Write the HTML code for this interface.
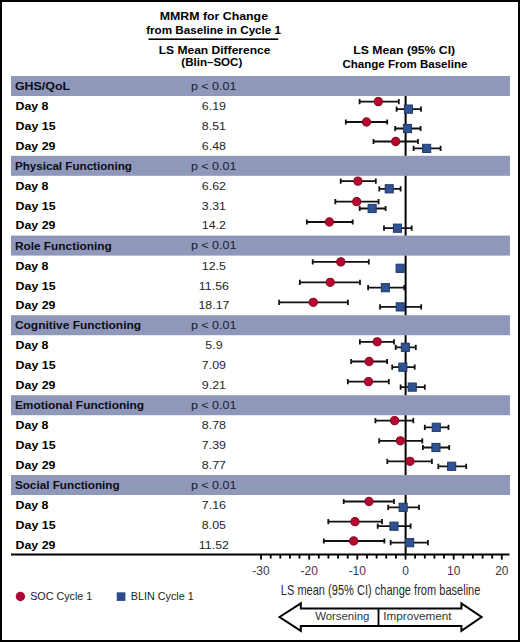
<!DOCTYPE html>
<html><head><meta charset="utf-8"><style>
html,body{margin:0;padding:0;background:#fff;}
body{width:520px;height:642px;overflow:hidden;}
svg{display:block;font-family:"Liberation Sans",sans-serif;}
</style></head><body>
<svg width="520" height="642" viewBox="0 0 520 642">
<rect x="0" y="0" width="520" height="642" fill="#000"/>
<rect x="2" y="2" width="516" height="638" fill="#fff"/>
<rect x="11" y="76" width="499" height="20" fill="#8f97ba"/>
<text x="14.9" y="90.0" font-size="11" font-weight="bold" fill="#0b0c18" text-anchor="start" textLength="55.2" lengthAdjust="spacingAndGlyphs">GHS/QoL</text>
<text x="190.9" y="89.8" font-size="11" font-weight="normal" fill="#1a1c2c" text-anchor="start" textLength="45.6" lengthAdjust="spacingAndGlyphs">p &lt; 0.01</text>
<text x="15.5" y="110.0" font-size="11" font-weight="bold" fill="#000" text-anchor="start" textLength="33.0" lengthAdjust="spacingAndGlyphs">Day 8</text>
<text transform="translate(213.9 110.0) scale(1.13 1)" font-size="11" fill="#262626" text-anchor="middle">6.19</text>
<text x="15.5" y="130.0" font-size="11" font-weight="bold" fill="#000" text-anchor="start" textLength="40.2" lengthAdjust="spacingAndGlyphs">Day 15</text>
<text transform="translate(213.9 130.0) scale(1.13 1)" font-size="11" fill="#262626" text-anchor="middle">8.51</text>
<text x="15.5" y="149.5" font-size="11" font-weight="bold" fill="#000" text-anchor="start" textLength="39.9" lengthAdjust="spacingAndGlyphs">Day 29</text>
<text transform="translate(213.9 149.5) scale(1.13 1)" font-size="11" fill="#262626" text-anchor="middle">6.48</text>
<rect x="11" y="155.8" width="499" height="20" fill="#8f97ba"/>
<text x="14.9" y="169.8" font-size="11" font-weight="bold" fill="#0b0c18" text-anchor="start" textLength="117.0" lengthAdjust="spacingAndGlyphs">Physical Functioning</text>
<text x="190.9" y="169.6" font-size="11" font-weight="normal" fill="#1a1c2c" text-anchor="start" textLength="45.6" lengthAdjust="spacingAndGlyphs">p &lt; 0.01</text>
<text x="15.5" y="189.8" font-size="11" font-weight="bold" fill="#000" text-anchor="start" textLength="33.0" lengthAdjust="spacingAndGlyphs">Day 8</text>
<text transform="translate(213.9 189.8) scale(1.13 1)" font-size="11" fill="#262626" text-anchor="middle">6.62</text>
<text x="15.5" y="209.8" font-size="11" font-weight="bold" fill="#000" text-anchor="start" textLength="40.2" lengthAdjust="spacingAndGlyphs">Day 15</text>
<text transform="translate(213.9 209.8) scale(1.13 1)" font-size="11" fill="#262626" text-anchor="middle">3.31</text>
<text x="15.5" y="229.3" font-size="11" font-weight="bold" fill="#000" text-anchor="start" textLength="39.9" lengthAdjust="spacingAndGlyphs">Day 29</text>
<text transform="translate(213.9 229.3) scale(1.13 1)" font-size="11" fill="#262626" text-anchor="middle">14.2</text>
<rect x="11" y="235.6" width="499" height="20" fill="#8f97ba"/>
<text x="14.9" y="249.6" font-size="11" font-weight="bold" fill="#0b0c18" text-anchor="start" textLength="96.8" lengthAdjust="spacingAndGlyphs">Role Functioning</text>
<text x="190.9" y="249.4" font-size="11" font-weight="normal" fill="#1a1c2c" text-anchor="start" textLength="45.6" lengthAdjust="spacingAndGlyphs">p &lt; 0.01</text>
<text x="15.5" y="269.6" font-size="11" font-weight="bold" fill="#000" text-anchor="start" textLength="33.0" lengthAdjust="spacingAndGlyphs">Day 8</text>
<text transform="translate(213.9 269.6) scale(1.13 1)" font-size="11" fill="#262626" text-anchor="middle">12.5</text>
<text x="15.5" y="289.6" font-size="11" font-weight="bold" fill="#000" text-anchor="start" textLength="40.2" lengthAdjust="spacingAndGlyphs">Day 15</text>
<text transform="translate(213.9 289.6) scale(1.13 1)" font-size="11" fill="#262626" text-anchor="middle">11.56</text>
<text x="15.5" y="309.1" font-size="11" font-weight="bold" fill="#000" text-anchor="start" textLength="39.9" lengthAdjust="spacingAndGlyphs">Day 29</text>
<text transform="translate(213.9 309.1) scale(1.13 1)" font-size="11" fill="#262626" text-anchor="middle">18.17</text>
<rect x="11" y="315.2" width="499" height="20" fill="#8f97ba"/>
<text x="14.9" y="329.2" font-size="11" font-weight="bold" fill="#0b0c18" text-anchor="start" textLength="126.2" lengthAdjust="spacingAndGlyphs">Cognitive Functioning</text>
<text x="190.9" y="329.0" font-size="11" font-weight="normal" fill="#1a1c2c" text-anchor="start" textLength="45.6" lengthAdjust="spacingAndGlyphs">p &lt; 0.01</text>
<text x="15.5" y="349.2" font-size="11" font-weight="bold" fill="#000" text-anchor="start" textLength="33.0" lengthAdjust="spacingAndGlyphs">Day 8</text>
<text transform="translate(213.9 349.2) scale(1.13 1)" font-size="11" fill="#262626" text-anchor="middle">5.9</text>
<text x="15.5" y="369.2" font-size="11" font-weight="bold" fill="#000" text-anchor="start" textLength="40.2" lengthAdjust="spacingAndGlyphs">Day 15</text>
<text transform="translate(213.9 369.2) scale(1.13 1)" font-size="11" fill="#262626" text-anchor="middle">7.09</text>
<text x="15.5" y="388.7" font-size="11" font-weight="bold" fill="#000" text-anchor="start" textLength="39.9" lengthAdjust="spacingAndGlyphs">Day 29</text>
<text transform="translate(213.9 388.7) scale(1.13 1)" font-size="11" fill="#262626" text-anchor="middle">9.21</text>
<rect x="11" y="395.2" width="499" height="20" fill="#8f97ba"/>
<text x="14.9" y="409.2" font-size="11" font-weight="bold" fill="#0b0c18" text-anchor="start" textLength="129.2" lengthAdjust="spacingAndGlyphs">Emotional Functioning</text>
<text x="190.9" y="409.0" font-size="11" font-weight="normal" fill="#1a1c2c" text-anchor="start" textLength="45.6" lengthAdjust="spacingAndGlyphs">p &lt; 0.01</text>
<text x="15.5" y="429.2" font-size="11" font-weight="bold" fill="#000" text-anchor="start" textLength="33.0" lengthAdjust="spacingAndGlyphs">Day 8</text>
<text transform="translate(213.9 429.2) scale(1.13 1)" font-size="11" fill="#262626" text-anchor="middle">8.78</text>
<text x="15.5" y="449.2" font-size="11" font-weight="bold" fill="#000" text-anchor="start" textLength="40.2" lengthAdjust="spacingAndGlyphs">Day 15</text>
<text transform="translate(213.9 449.2) scale(1.13 1)" font-size="11" fill="#262626" text-anchor="middle">7.39</text>
<text x="15.5" y="468.7" font-size="11" font-weight="bold" fill="#000" text-anchor="start" textLength="39.9" lengthAdjust="spacingAndGlyphs">Day 29</text>
<text transform="translate(213.9 468.7) scale(1.13 1)" font-size="11" fill="#262626" text-anchor="middle">8.77</text>
<rect x="11" y="475" width="499" height="20" fill="#8f97ba"/>
<text x="14.9" y="489.0" font-size="11" font-weight="bold" fill="#0b0c18" text-anchor="start" textLength="104.8" lengthAdjust="spacingAndGlyphs">Social Functioning</text>
<text x="190.9" y="488.8" font-size="11" font-weight="normal" fill="#1a1c2c" text-anchor="start" textLength="45.6" lengthAdjust="spacingAndGlyphs">p &lt; 0.01</text>
<text x="15.5" y="509.0" font-size="11" font-weight="bold" fill="#000" text-anchor="start" textLength="33.0" lengthAdjust="spacingAndGlyphs">Day 8</text>
<text transform="translate(213.9 509.0) scale(1.13 1)" font-size="11" fill="#262626" text-anchor="middle">7.16</text>
<text x="15.5" y="529.0" font-size="11" font-weight="bold" fill="#000" text-anchor="start" textLength="40.2" lengthAdjust="spacingAndGlyphs">Day 15</text>
<text transform="translate(213.9 529.0) scale(1.13 1)" font-size="11" fill="#262626" text-anchor="middle">8.05</text>
<text x="15.5" y="548.5" font-size="11" font-weight="bold" fill="#000" text-anchor="start" textLength="39.9" lengthAdjust="spacingAndGlyphs">Day 29</text>
<text transform="translate(213.9 548.5) scale(1.13 1)" font-size="11" fill="#262626" text-anchor="middle">11.52</text>
<rect x="404.6" y="96" width="2" height="59.8" fill="#000"/>
<rect x="404.6" y="175.8" width="2" height="59.8" fill="#000"/>
<rect x="404.6" y="255.6" width="2" height="59.6" fill="#000"/>
<rect x="404.6" y="335.2" width="2" height="60.0" fill="#000"/>
<rect x="404.6" y="415.2" width="2" height="59.8" fill="#000"/>
<rect x="404.6" y="495" width="2" height="59.0" fill="#000"/>
<path d="M359.6 101.6H398.8M359.6 99.0V104.2M398.8 99.0V104.2" stroke="#111" stroke-width="1.8" fill="none"/>
<path d="M396.6 109.1H421.0M396.6 106.5V111.7M421.0 106.5V111.7" stroke="#111" stroke-width="1.8" fill="none"/>
<circle cx="378.3" cy="101.6" r="4.1" fill="#b8062f" stroke="#850a26" stroke-width="1.1"/>
<rect x="404.4" y="105.0" width="8.1" height="8.2" fill="#2f5292" stroke="#1e3868" stroke-width="1"/>
<path d="M345.8 122.0H387.2M345.8 119.4V124.6M387.2 119.4V124.6" stroke="#111" stroke-width="1.8" fill="none"/>
<path d="M395.2 128.5H420.6M395.2 125.9V131.1M420.6 125.9V131.1" stroke="#111" stroke-width="1.8" fill="none"/>
<circle cx="366.5" cy="122.0" r="4.1" fill="#b8062f" stroke="#850a26" stroke-width="1.1"/>
<rect x="403.4" y="124.4" width="8.1" height="8.2" fill="#2f5292" stroke="#1e3868" stroke-width="1"/>
<path d="M373.5 141.5H418.0M373.5 138.9V144.1M418.0 138.9V144.1" stroke="#111" stroke-width="1.8" fill="none"/>
<path d="M413.6 148.4H440.6M413.6 145.8V151.0M440.6 145.8V151.0" stroke="#111" stroke-width="1.8" fill="none"/>
<circle cx="395.7" cy="141.5" r="4.1" fill="#b8062f" stroke="#850a26" stroke-width="1.1"/>
<rect x="422.6" y="144.3" width="8.1" height="8.2" fill="#2f5292" stroke="#1e3868" stroke-width="1"/>
<path d="M340.7 181.1H375.8M340.7 178.5V183.7M375.8 178.5V183.7" stroke="#111" stroke-width="1.8" fill="none"/>
<path d="M379.3 188.8H400.6M379.3 186.2V191.4M400.6 186.2V191.4" stroke="#111" stroke-width="1.8" fill="none"/>
<circle cx="357.9" cy="181.1" r="4.1" fill="#b8062f" stroke="#850a26" stroke-width="1.1"/>
<rect x="385.2" y="184.7" width="8.1" height="8.2" fill="#2f5292" stroke="#1e3868" stroke-width="1"/>
<path d="M335.3 201.7H378.6M335.3 199.1V204.3M378.6 199.1V204.3" stroke="#111" stroke-width="1.8" fill="none"/>
<path d="M359.7 208.5H385.6M359.7 205.9V211.1M385.6 205.9V211.1" stroke="#111" stroke-width="1.8" fill="none"/>
<circle cx="356.7" cy="201.7" r="4.1" fill="#b8062f" stroke="#850a26" stroke-width="1.1"/>
<rect x="368.1" y="204.4" width="8.1" height="8.2" fill="#2f5292" stroke="#1e3868" stroke-width="1"/>
<path d="M306.9 222.0H352.7M306.9 219.4V224.6M352.7 219.4V224.6" stroke="#111" stroke-width="1.8" fill="none"/>
<path d="M384.0 228.2H411.7M384.0 225.6V230.8M411.7 225.6V230.8" stroke="#111" stroke-width="1.8" fill="none"/>
<circle cx="329.4" cy="222.0" r="4.1" fill="#b8062f" stroke="#850a26" stroke-width="1.1"/>
<rect x="393.4" y="224.1" width="8.1" height="8.2" fill="#2f5292" stroke="#1e3868" stroke-width="1"/>
<path d="M312.7 261.9H368.8M312.7 259.3V264.5M368.8 259.3V264.5" stroke="#111" stroke-width="1.8" fill="none"/>
<circle cx="340.8" cy="261.9" r="4.1" fill="#b8062f" stroke="#850a26" stroke-width="1.1"/>
<rect x="396.1" y="264.2" width="8.1" height="8.2" fill="#2f5292" stroke="#1e3868" stroke-width="1"/>
<path d="M299.8 282.3H360.0M299.8 279.7V284.9M360.0 279.7V284.9" stroke="#111" stroke-width="1.8" fill="none"/>
<path d="M368.1 287.7H404.3M368.1 285.1V290.3M404.3 285.1V290.3" stroke="#111" stroke-width="1.8" fill="none"/>
<circle cx="330.2" cy="282.3" r="4.1" fill="#b8062f" stroke="#850a26" stroke-width="1.1"/>
<rect x="381.3" y="283.6" width="8.1" height="8.2" fill="#2f5292" stroke="#1e3868" stroke-width="1"/>
<path d="M279.2 302.3H347.9M279.2 299.7V304.9M347.9 299.7V304.9" stroke="#111" stroke-width="1.8" fill="none"/>
<path d="M380.0 306.9H421.2M380.0 304.3V309.5M421.2 304.3V309.5" stroke="#111" stroke-width="1.8" fill="none"/>
<circle cx="313.3" cy="302.3" r="4.1" fill="#b8062f" stroke="#850a26" stroke-width="1.1"/>
<rect x="396.2" y="302.8" width="8.1" height="8.2" fill="#2f5292" stroke="#1e3868" stroke-width="1"/>
<path d="M359.9 341.8H394.0M359.9 339.2V344.4M394.0 339.2V344.4" stroke="#111" stroke-width="1.8" fill="none"/>
<path d="M395.7 347.3H415.8M395.7 344.7V349.9M415.8 344.7V349.9" stroke="#111" stroke-width="1.8" fill="none"/>
<circle cx="377.2" cy="341.8" r="4.1" fill="#b8062f" stroke="#850a26" stroke-width="1.1"/>
<rect x="401.3" y="343.2" width="8.1" height="8.2" fill="#2f5292" stroke="#1e3868" stroke-width="1"/>
<path d="M351.2 361.5H387.1M351.2 358.9V364.1M387.1 358.9V364.1" stroke="#111" stroke-width="1.8" fill="none"/>
<path d="M392.2 367.2H414.7M392.2 364.6V369.8M414.7 364.6V369.8" stroke="#111" stroke-width="1.8" fill="none"/>
<circle cx="369.1" cy="361.5" r="4.1" fill="#b8062f" stroke="#850a26" stroke-width="1.1"/>
<rect x="398.8" y="363.1" width="8.1" height="8.2" fill="#2f5292" stroke="#1e3868" stroke-width="1"/>
<path d="M347.8 381.6H388.8M347.8 379.0V384.2M388.8 379.0V384.2" stroke="#111" stroke-width="1.8" fill="none"/>
<path d="M400.6 387.1H424.8M400.6 384.5V389.7M424.8 384.5V389.7" stroke="#111" stroke-width="1.8" fill="none"/>
<circle cx="368.5" cy="381.6" r="4.1" fill="#b8062f" stroke="#850a26" stroke-width="1.1"/>
<rect x="408.2" y="383.0" width="8.1" height="8.2" fill="#2f5292" stroke="#1e3868" stroke-width="1"/>
<path d="M375.4 420.6H413.3M375.4 418.0V423.2M413.3 418.0V423.2" stroke="#111" stroke-width="1.8" fill="none"/>
<path d="M424.8 427.3H448.5M424.8 424.7V429.9M448.5 424.7V429.9" stroke="#111" stroke-width="1.8" fill="none"/>
<circle cx="394.6" cy="420.6" r="4.1" fill="#b8062f" stroke="#850a26" stroke-width="1.1"/>
<rect x="432.2" y="423.2" width="8.1" height="8.2" fill="#2f5292" stroke="#1e3868" stroke-width="1"/>
<path d="M379.2 440.8H422.3M379.2 438.2V443.4M422.3 438.2V443.4" stroke="#111" stroke-width="1.8" fill="none"/>
<path d="M422.9 447.5H449.2M422.9 444.9V450.1M449.2 444.9V450.1" stroke="#111" stroke-width="1.8" fill="none"/>
<circle cx="400.4" cy="440.8" r="4.1" fill="#b8062f" stroke="#850a26" stroke-width="1.1"/>
<rect x="431.9" y="443.4" width="8.1" height="8.2" fill="#2f5292" stroke="#1e3868" stroke-width="1"/>
<path d="M387.3 461.3H431.9M387.3 458.7V463.9M431.9 458.7V463.9" stroke="#111" stroke-width="1.8" fill="none"/>
<path d="M438.3 466.3H466.2M438.3 463.7V468.9M466.2 463.7V468.9" stroke="#111" stroke-width="1.8" fill="none"/>
<circle cx="410.0" cy="461.3" r="4.1" fill="#b8062f" stroke="#850a26" stroke-width="1.1"/>
<rect x="447.6" y="462.2" width="8.1" height="8.2" fill="#2f5292" stroke="#1e3868" stroke-width="1"/>
<path d="M343.7 501.5H394.0M343.7 498.9V504.1M394.0 498.9V504.1" stroke="#111" stroke-width="1.8" fill="none"/>
<path d="M388.2 507.3H419.0M388.2 504.7V509.9M419.0 504.7V509.9" stroke="#111" stroke-width="1.8" fill="none"/>
<circle cx="369.0" cy="501.5" r="4.1" fill="#b8062f" stroke="#850a26" stroke-width="1.1"/>
<rect x="399.1" y="503.2" width="8.1" height="8.2" fill="#2f5292" stroke="#1e3868" stroke-width="1"/>
<path d="M328.3 521.7H382.0M328.3 519.1V524.3M382.0 519.1V524.3" stroke="#111" stroke-width="1.8" fill="none"/>
<path d="M377.7 526.2H410.6M377.7 523.6V528.8M410.6 523.6V528.8" stroke="#111" stroke-width="1.8" fill="none"/>
<circle cx="355.0" cy="521.7" r="4.1" fill="#b8062f" stroke="#850a26" stroke-width="1.1"/>
<rect x="389.9" y="522.1" width="8.1" height="8.2" fill="#2f5292" stroke="#1e3868" stroke-width="1"/>
<path d="M323.8 541.0H384.4M323.8 538.4V543.6M384.4 538.4V543.6" stroke="#111" stroke-width="1.8" fill="none"/>
<path d="M390.6 542.7H427.9M390.6 540.1V545.3M427.9 540.1V545.3" stroke="#111" stroke-width="1.8" fill="none"/>
<circle cx="353.7" cy="541.0" r="4.1" fill="#b8062f" stroke="#850a26" stroke-width="1.1"/>
<rect x="405.6" y="538.6" width="8.1" height="8.2" fill="#2f5292" stroke="#1e3868" stroke-width="1"/>
<rect x="11" y="553.5" width="498.5" height="2" fill="#000"/>
<rect x="260.1" y="555" width="1.8" height="4.6" fill="#000"/>
<rect x="269.8" y="555" width="1.8" height="3.6" fill="#000"/>
<rect x="279.4" y="555" width="1.8" height="3.6" fill="#000"/>
<rect x="289.0" y="555" width="1.8" height="3.6" fill="#000"/>
<rect x="298.6" y="555" width="1.8" height="3.6" fill="#000"/>
<rect x="308.3" y="555" width="1.8" height="4.6" fill="#000"/>
<rect x="317.9" y="555" width="1.8" height="3.6" fill="#000"/>
<rect x="327.5" y="555" width="1.8" height="3.6" fill="#000"/>
<rect x="337.2" y="555" width="1.8" height="3.6" fill="#000"/>
<rect x="346.8" y="555" width="1.8" height="3.6" fill="#000"/>
<rect x="356.4" y="555" width="1.8" height="4.6" fill="#000"/>
<rect x="366.1" y="555" width="1.8" height="3.6" fill="#000"/>
<rect x="375.7" y="555" width="1.8" height="3.6" fill="#000"/>
<rect x="385.3" y="555" width="1.8" height="3.6" fill="#000"/>
<rect x="395.0" y="555" width="1.8" height="3.6" fill="#000"/>
<rect x="404.6" y="555" width="1.8" height="4.6" fill="#000"/>
<rect x="414.2" y="555" width="1.8" height="3.6" fill="#000"/>
<rect x="423.9" y="555" width="1.8" height="3.6" fill="#000"/>
<rect x="433.5" y="555" width="1.8" height="3.6" fill="#000"/>
<rect x="443.1" y="555" width="1.8" height="3.6" fill="#000"/>
<rect x="452.8" y="555" width="1.8" height="4.6" fill="#000"/>
<rect x="462.4" y="555" width="1.8" height="3.6" fill="#000"/>
<rect x="472.0" y="555" width="1.8" height="3.6" fill="#000"/>
<rect x="481.7" y="555" width="1.8" height="3.6" fill="#000"/>
<rect x="491.3" y="555" width="1.8" height="3.6" fill="#000"/>
<rect x="500.9" y="555" width="1.8" height="4.6" fill="#000"/>
<text transform="translate(261.0 575.0) scale(1.0 1)" font-size="12" fill="#3a3a3a" text-anchor="middle">-30</text>
<text transform="translate(309.2 575.0) scale(1.0 1)" font-size="12" fill="#3a3a3a" text-anchor="middle">-20</text>
<text transform="translate(357.3 575.0) scale(1.0 1)" font-size="12" fill="#3a3a3a" text-anchor="middle">-10</text>
<text transform="translate(405.5 575.0) scale(1.0 1)" font-size="12" fill="#3a3a3a" text-anchor="middle">0</text>
<text transform="translate(453.7 575.0) scale(1.0 1)" font-size="12" fill="#3a3a3a" text-anchor="middle">10</text>
<text transform="translate(501.8 575.0) scale(1.0 1)" font-size="12" fill="#3a3a3a" text-anchor="middle">20</text>
<text x="280.8" y="594.7" font-size="15" font-weight="normal" fill="#2a2a2a" text-anchor="start" textLength="199.6" lengthAdjust="spacingAndGlyphs">LS mean (95% CI) change from baseline</text>
<circle cx="20.4" cy="596.5" r="4.7" fill="#ac0a35"/>
<text x="30.2" y="600.4" font-size="11" font-weight="normal" fill="#222" text-anchor="start" textLength="62.1" lengthAdjust="spacingAndGlyphs">SOC Cycle 1</text>
<rect x="116.7" y="592.3" width="8.7" height="8.6" fill="#2c4a8a"/>
<text x="130.8" y="600.4" font-size="11" font-weight="normal" fill="#222" text-anchor="start" textLength="62.9" lengthAdjust="spacingAndGlyphs">BLIN Cycle 1</text>
<path d="M279.5 617 L300.8 603.3 V608.5 H461.4 V603.3 L481.6 617 L461.4 630.9 V626 H300.8 V630.9 Z" fill="none" stroke="#000" stroke-width="2" stroke-linejoin="miter"/>
<rect x="377.6" y="608.6" width="1.8" height="17.5" fill="#000"/>
<text x="315.2" y="620.3" font-size="10.5" font-weight="normal" fill="#333" text-anchor="start" textLength="54.2" lengthAdjust="spacingAndGlyphs">Worsening</text>
<text x="383.3" y="620.3" font-size="10.5" font-weight="normal" fill="#333" text-anchor="start" textLength="68.2" lengthAdjust="spacingAndGlyphs">Improvement</text>
<text x="159.8" y="20.3" font-size="11" font-weight="bold" fill="#000" text-anchor="start" textLength="108.2" lengthAdjust="spacingAndGlyphs">MMRM for Change</text>
<text x="146.2" y="34.3" font-size="11" font-weight="bold" fill="#000" text-anchor="start" textLength="134.9" lengthAdjust="spacingAndGlyphs">from Baseline in Cycle 1</text>
<rect x="148.5" y="38.4" width="129.8" height="1.6" fill="#000"/>
<text x="158.7" y="53.6" font-size="11" font-weight="bold" fill="#000" text-anchor="start" textLength="111.8" lengthAdjust="spacingAndGlyphs">LS Mean Difference</text>
<text x="181.3" y="66.3" font-size="11" font-weight="bold" fill="#000" text-anchor="start" textLength="61.0" lengthAdjust="spacingAndGlyphs">(Blin–SOC)</text>
<text x="353.2" y="53.6" font-size="11" font-weight="bold" fill="#000" text-anchor="start" textLength="102.0" lengthAdjust="spacingAndGlyphs">LS Mean (95% CI)</text>
<text x="342.4" y="67.5" font-size="11" font-weight="bold" fill="#000" text-anchor="start" textLength="125.0" lengthAdjust="spacingAndGlyphs">Change From Baseline</text>
</svg>
</body></html>
